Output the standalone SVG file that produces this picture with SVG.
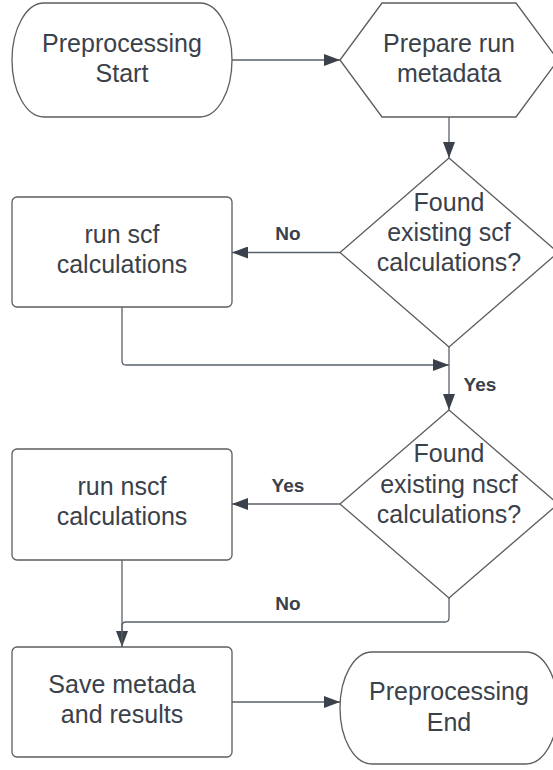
<svg xmlns="http://www.w3.org/2000/svg" width="553" height="770" viewBox="0 0 553 770">
<style>
.shape{fill:#ffffff;stroke:#5e5e5e;stroke-width:1.3;stroke-linejoin:round}
.txt{font-family:"Liberation Sans",Arial,sans-serif;font-size:25px;fill:#3a414a;text-anchor:middle}
.lbl{font-family:"Liberation Sans",Arial,sans-serif;font-size:19px;font-weight:bold;fill:#3a414a;text-anchor:middle}
.conn{fill:none;stroke:#5a616b;stroke-width:1.3}
</style>
<defs>
<marker id="arr" markerWidth="16" markerHeight="12" refX="16" refY="6" orient="auto" markerUnits="userSpaceOnUse">
<polygon points="0,0 16,6 0,12" fill="#3a414a"/>
</marker>
</defs>
<rect width="553" height="770" fill="#ffffff"/>
<g id="connectors">
<path class="conn" d="M232,60 H340" marker-end="url(#arr)"/>
<path class="conn" d="M449,117 V158" marker-end="url(#arr)"/>
<path class="conn" d="M340,252.5 H232" marker-end="url(#arr)"/>
<path class="conn" d="M122,307 V361 Q122,365 126,365 H449" marker-end="url(#arr)"/>
<path class="conn" d="M449,347 V410" marker-end="url(#arr)"/>
<path class="conn" d="M340,504 H232" marker-end="url(#arr)"/>
<path class="conn" d="M449,598 V618 Q449,622 445,622 H126 Q122,622 122,626 V647" marker-end="url(#arr)"/>
<path class="conn" d="M122,560 V647"/>
<path class="conn" d="M232,702 H340" marker-end="url(#arr)"/>
<text class="lbl" x="288" y="240">No</text>
<text class="lbl" x="480" y="391">Yes</text>
<text class="lbl" x="288" y="492">Yes</text>
<text class="lbl" x="288" y="610">No</text>
</g>
<g id="start">
<rect class="shape" x="12" y="3" width="220" height="114" rx="32" ry="57"/>
<text class="txt" x="122" y="52">Preprocessing</text>
<text class="txt" x="122" y="82">Start</text>
</g>
<g id="prepare">
<polygon class="shape" points="340,60 382,3 516,3 558,60 516,117 382,117"/>
<text class="txt" x="449" y="52">Prepare run</text>
<text class="txt" x="449" y="82">metadata</text>
</g>
<g id="decision-scf">
<polygon class="shape" points="449,158 558,252.5 449,347 340,252.5"/>
<text class="txt" x="449" y="211">Found</text>
<text class="txt" x="449" y="241">existing scf</text>
<text class="txt" x="449" y="271">calculations?</text>
</g>
<g id="run-scf">
<rect class="shape" x="12" y="197" width="220" height="110" rx="5"/>
<text class="txt" x="122" y="243">run scf</text>
<text class="txt" x="122" y="273">calculations</text>
</g>
<g id="decision-nscf">
<polygon class="shape" points="449,410 558,504 449,598 340,504"/>
<text class="txt" x="449" y="462">Found</text>
<text class="txt" x="449" y="493">existing nscf</text>
<text class="txt" x="449" y="523">calculations?</text>
</g>
<g id="run-nscf">
<rect class="shape" x="12" y="449" width="220" height="111" rx="5"/>
<text class="txt" x="122" y="495">run nscf</text>
<text class="txt" x="122" y="525">calculations</text>
</g>
<g id="save">
<rect class="shape" x="12" y="647" width="220" height="110" rx="5"/>
<text class="txt" x="122" y="693">Save metada</text>
<text class="txt" x="122" y="723">and results</text>
</g>
<g id="end">
<rect class="shape" x="340" y="652" width="218" height="112" rx="32" ry="56"/>
<text class="txt" x="449" y="700">Preprocessing</text>
<text class="txt" x="449" y="731">End</text>
</g>
</svg>
